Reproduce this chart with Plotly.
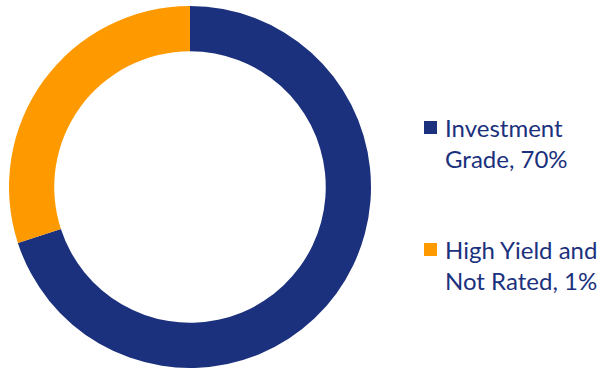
import plotly.graph_objects as go

labels = ["Investment Grade", "High Yield and Not Rated"]
legend_text = ["Investment<br>Grade, 70%", "High Yield and<br>Not Rated, 1%"]
values = [70, 30]
colors = ["#1B317D", "#FF9900"]

W, H = 600, 371
fig = go.Figure(go.Pie(
    labels=labels, values=values, hole=0.75, sort=False, direction="clockwise",
    rotation=0, marker=dict(colors=colors, line=dict(width=0)),
    textinfo="none", hoverinfo="label+percent", showlegend=False,
    domain=dict(x=[9 / W, 371 / W], y=[3 / H, 365 / H]),
))

# legend built as text + square keys
text_tops = [111, 233]
square_tops = [121, 243]
for i, (t, c) in enumerate(zip(legend_text, colors)):
    fig.add_annotation(x=443 / W, y=(H - text_tops[i]) / H, xref="paper", yref="paper",
                       xanchor="left", yanchor="top", align="left", showarrow=False,
                       text=t, font=dict(family="Lato", size=24, color="#1B317D"))
    fig.add_shape(type="rect", xref="paper", yref="paper",
                  x0=424 / W, x1=437 / W,
                  y0=(H - square_tops[i]) / H, y1=(H - square_tops[i] - 13) / H,
                  fillcolor=c, line=dict(width=0))

fig.update_layout(width=W, height=H, margin=dict(l=0, r=0, t=0, b=0),
                  paper_bgcolor="white", plot_bgcolor="white")
fig.write_html("out.html")
